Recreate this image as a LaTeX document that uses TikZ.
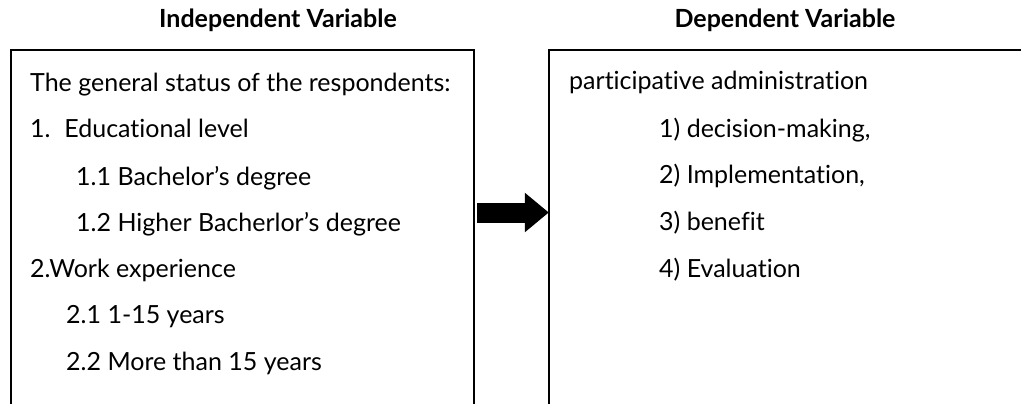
\documentclass[tikz,border=0pt]{standalone}
\usepackage{fontspec}
\setmainfont[Ligatures={NoCommon}]{Lato}
\usetikzlibrary{arrows.meta}
\begin{document}
\begin{tikzpicture}[x=1pt,y=-1pt,
  txt/.style={anchor=base west, inner sep=0pt, font=\fontsize{25}{30}\selectfont},
  ttl/.style={anchor=base, inner sep=0pt, font=\fontsize{25}{30}\selectfont\bfseries},
  frame/.style={line width=1.5pt, line cap=rect},
  area/.style={inner sep=0pt, minimum width=#1, minimum height=325pt}]
\useasboundingbox[fill=white] (0,0) rectangle (1021,404);
% title labels
\node[ttl] (t1) at (278,28) {Independent Variable};
\node[ttl] (t2) at (785,28) {Dependent Variable};
% box areas
\node[area=463pt] (lbox) at (242.5,212.5) {};
\node[area=520pt] (rbox) at (809,212.5) {};
\draw[frame] ([yshift=-40pt]lbox.south west) -- (lbox.north west) -- (lbox.north east) -- ([yshift=-40pt]lbox.south east);
\draw[frame] ([yshift=-40pt]rbox.south west) -- (rbox.north west) -- (rbox.north east);
% arrow
\draw[line width=20pt, -{Triangle[length=24pt,width=38pt]}, shorten <=3pt] (lbox.east) -- (rbox.west);
% left text
\node[txt] (l1) at (30,92) {The general status of the respondents:};
\node[txt] (l2) at (30,137) {1.\hspace{0.55em}Educational level};
\node[txt] (l3) at (76,185) {1.1 Bachelor’s degree};
\node[txt] (l4) at (76,231) {1.2 Higher Bacherlor’s degree};
\node[txt] (l5) at (30,277) {2.Work experience};
\node[txt] (l6) at (66,323) {2.1 1-15 years};
\node[txt] (l7) at (66,370) {2.2 More than 15 years};
% right text
\node[txt] (r1) at (569,89) {participative administration};
\node[txt] (r2) at (659,137) {1) decision-making,};
\node[txt] (r3) at (659,183) {2) Implementation,};
\node[txt] (r4) at (659,230) {3) benefit};
\node[txt] (r5) at (659,277) {4) Evaluation};
\end{tikzpicture}
\end{document}
